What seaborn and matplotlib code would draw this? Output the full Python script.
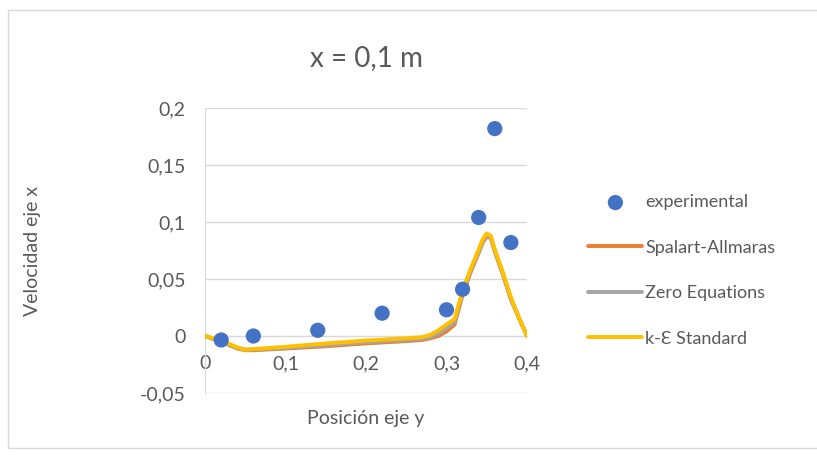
import matplotlib
matplotlib.use("Agg")
import matplotlib.pyplot as plt
import pandas as pd
import seaborn as sns
from matplotlib.ticker import FuncFormatter, MultipleLocator

# experimental points
exp_y = [0.02, 0.06, 0.14, 0.22, 0.30, 0.32, 0.34, 0.36, 0.38]
exp_v = [-0.0035, 0.0, 0.005, 0.020, 0.023, 0.041, 0.104, 0.182, 0.082]

# simulated profiles
sim_y = [0.0, 0.02, 0.04, 0.05, 0.06, 0.10, 0.15, 0.20, 0.25, 0.27, 0.28, 0.29,
         0.30, 0.31, 0.32, 0.33, 0.34, 0.345, 0.35, 0.355, 0.36, 0.37, 0.38,
         0.39, 0.40]
sa_v = [0.0, -0.005, -0.011, -0.0125, -0.0125, -0.011, -0.009, -0.0065, -0.0045,
        -0.0035, -0.002, 0.0, 0.004, 0.010, 0.036, 0.056, 0.073, 0.082, 0.087,
        0.086, 0.074, 0.054, 0.032, 0.016, 0.0]
ze_v = [0.0, -0.005, -0.0105, -0.012, -0.012, -0.0105, -0.008, -0.0055, -0.0035,
        -0.0025, -0.001, 0.002, 0.007, 0.012, 0.038, 0.057, 0.074, 0.083, 0.088,
        0.087, 0.075, 0.055, 0.033, 0.016, 0.0]
ke_v = [0.0, -0.004, -0.010, -0.012, -0.0115, -0.0095, -0.0065, -0.004, -0.002,
        -0.001, 0.001, 0.005, 0.010, 0.015, 0.040, 0.059, 0.076, 0.085, 0.090,
        0.088, 0.076, 0.056, 0.034, 0.016, 0.0]

models = ["Spalart-Allmaras", "Zero Equations", "k-Ɛ Standard"]
colors = ["#ED7D31", "#A5A5A5", "#FFC000"]

sns.set_style("white")
plt.rcParams["font.family"] = ["Lato", "DejaVu Sans"]
txt = "#595959"

exp_df = pd.DataFrame({"y": exp_y, "v": exp_v})
sim_df = pd.concat([
    pd.DataFrame({"y": sim_y, "v": vals, "modelo": name})
    for name, vals in zip(models, [sa_v, ze_v, ke_v])
])

fig = plt.figure(figsize=(8.17, 4.58), dpi=100)
fig.patches.append(plt.Rectangle((0.010, 0.022), 0.995, 0.957, transform=fig.transFigure,
                                 fill=False, edgecolor="#d9d9d9", linewidth=1))
ax = fig.add_axes([0.251, 0.142, 0.394, 0.622])

sns.lineplot(data=sim_df, x="y", y="v", hue="modelo", palette=colors,
             linewidth=2.8, ax=ax, zorder=3)
sns.scatterplot(data=exp_df, x="y", y="v", color="#4472C4", s=120,
                edgecolor="none", ax=ax, zorder=4, label="experimental")

ax.set_xlim(0, 0.4)
ax.set_ylim(-0.05, 0.2)
ax.yaxis.set_major_locator(MultipleLocator(0.05))
ax.xaxis.set_major_locator(MultipleLocator(0.1))
fmt = FuncFormatter(lambda v, p: "0" if abs(v) < 1e-9 else f"{v:g}".replace(".", ","))
ax.xaxis.set_major_formatter(fmt)
ax.yaxis.set_major_formatter(fmt)
ax.grid(axis="y", color="#d9d9d9", linewidth=1)
ax.set_axisbelow(True)
for s in ["top", "right"]:
    ax.spines[s].set_visible(False)
ax.spines["left"].set_color("#d9d9d9")
ax.spines["bottom"].set_position(("data", 0))
ax.spines["bottom"].set_color("#d9d9d9")
ax.tick_params(length=0, labelsize=14, colors=txt)
ax.tick_params(axis="x", pad=14)
ax.tick_params(axis="y", pad=14)

ax.set_title("x = 0,1 m", fontsize=20, color=txt, pad=30)
ax.set_xlabel("Posición eje y", fontsize=14, color=txt)
ax.set_ylabel("Velocidad eje x", fontsize=14, color=txt)
ax.xaxis.set_label_coords(0.5, -0.06)
ax.yaxis.set_label_coords(-0.51, 0.5)

handles, labels = ax.get_legend_handles_labels()
order = [labels.index("experimental")] + [labels.index(m) for m in models]
ax.legend([handles[i] for i in order], [labels[i] for i in order],
          loc="center left", bbox_to_anchor=(1.14, 0.43), frameon=False,
          fontsize=13, labelcolor=txt, handlelength=3.0, handletextpad=0.15,
          labelspacing=1.63, markerscale=1.0)

fig.savefig("out.png", dpi=100)
